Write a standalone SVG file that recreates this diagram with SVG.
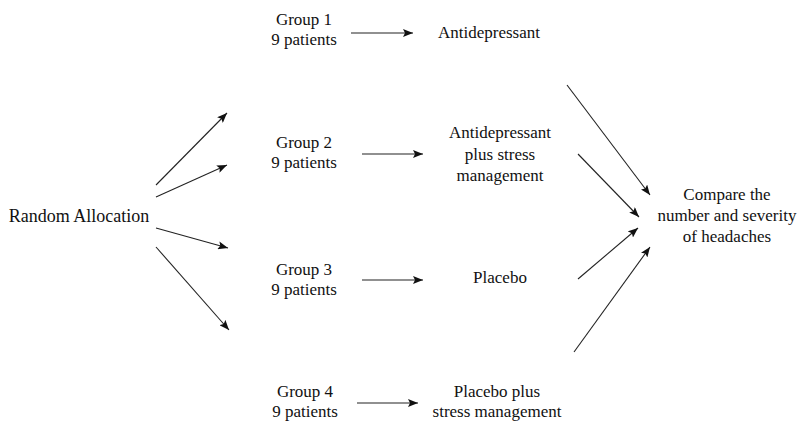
<svg xmlns="http://www.w3.org/2000/svg" width="798" height="423" viewBox="0 0 798 423" font-family="'Liberation Serif', 'Times New Roman', serif">
<defs>
<marker id="ah" viewBox="0 0 10 8" refX="10" refY="4" markerWidth="10" markerHeight="8" markerUnits="userSpaceOnUse" orient="auto">
<path d="M0,0 L10,4 L0,8 L2,4 Z" fill="#111"/>
</marker>
<style>
text{font-family:"Liberation Serif","Times New Roman",serif;font-size:17px;fill:#111;text-anchor:middle}
text.big{font-size:18px}
.c line{stroke:#222;stroke-width:1.1;marker-end:url(#ah)}
</style>
</defs>
<rect width="798" height="423" fill="#fff"/>
<g id="random"><text class="big" x="79" y="222">Random Allocation</text></g>
<g id="group1"><text x="304" y="25">Group 1</text><text x="304" y="45">9 patients</text></g>
<g id="group2"><text x="304" y="148">Group 2</text><text x="304" y="168">9 patients</text></g>
<g id="group3"><text x="304" y="275">Group 3</text><text x="304" y="295">9 patients</text></g>
<g id="group4"><text x="305" y="397">Group 4</text><text x="305" y="417">9 patients</text></g>
<g id="antidep"><text x="489" y="38">Antidepressant</text></g>
<g id="antidepstress"><text x="500" y="138">Antidepressant</text><text x="500" y="160">plus stress</text><text x="500" y="181">management</text></g>
<g id="placebo"><text x="500" y="283">Placebo</text></g>
<g id="placebostress"><text x="497" y="397">Placebo plus</text><text x="497" y="417">stress management</text></g>
<g id="compare"><text x="727" y="200">Compare the</text><text x="727" y="221">number and severity</text><text x="727" y="242">of headaches</text></g>
<g class="c" id="connectors">
<line x1="156" y1="185" x2="227" y2="113"/>
<line x1="156" y1="197" x2="227" y2="165"/>
<line x1="156" y1="228" x2="228" y2="248"/>
<line x1="156" y1="247" x2="229" y2="330"/>
<line x1="351" y1="33" x2="413" y2="33"/>
<line x1="362" y1="154" x2="423" y2="154"/>
<line x1="362" y1="280" x2="423" y2="280"/>
<line x1="357" y1="403" x2="418" y2="403"/>
<line x1="567" y1="85" x2="650" y2="195"/>
<line x1="578" y1="154" x2="639" y2="217"/>
<line x1="578" y1="279" x2="638" y2="228"/>
<line x1="574" y1="352" x2="650" y2="247"/>
</g>
</svg>
